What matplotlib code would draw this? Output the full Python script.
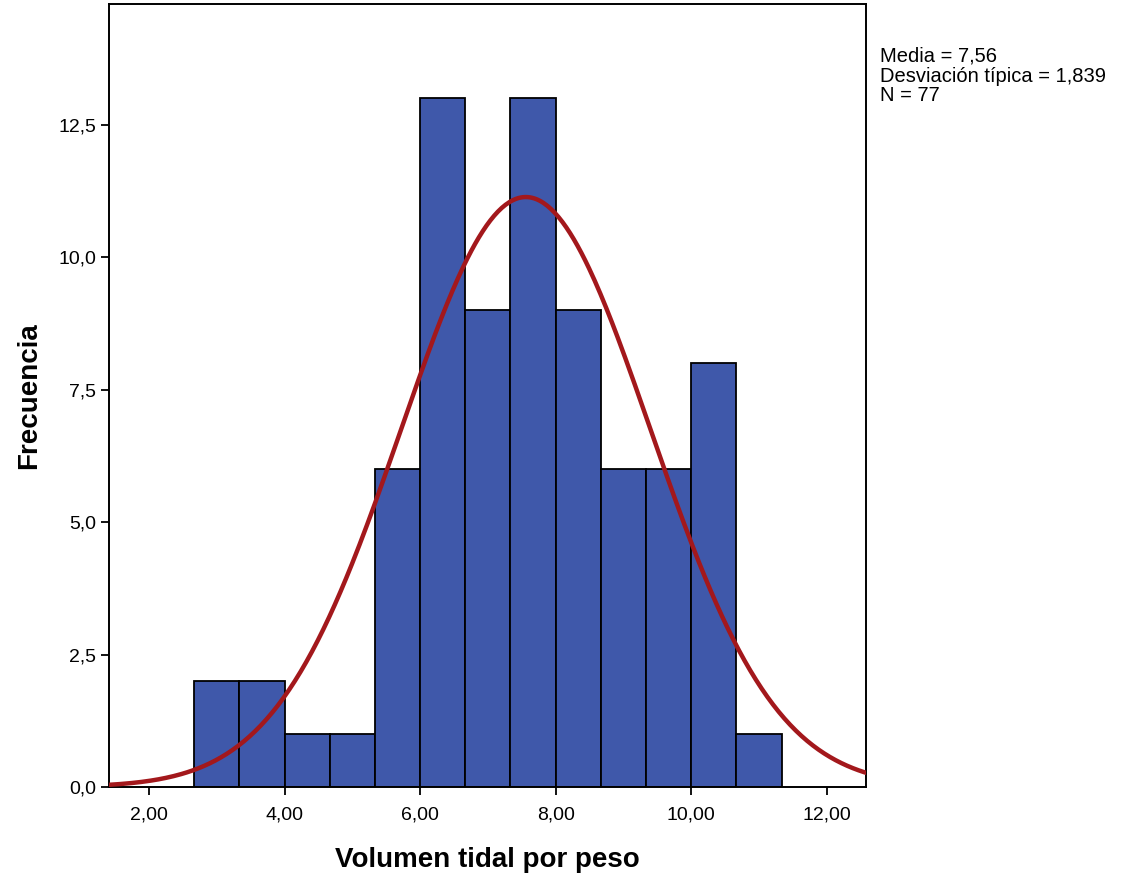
import numpy as np
import matplotlib
matplotlib.use("Agg")
from matplotlib import pyplot as plt
from matplotlib.ticker import FuncFormatter

plt.rcParams['font.family'] = ['Liberation Sans', 'DejaVu Sans']

# histogram of tidal volume per weight
bin_edges = [8/3 + i * 2/3 for i in range(14)]
counts = [2, 2, 1, 1, 6, 13, 9, 13, 9, 6, 6, 8, 1]
media = 7.56
desv = 1.839
n = 77
yticks = [0.0, 2.5, 5.0, 7.5, 10.0, 12.5]
xticks = [2, 4, 6, 8, 10, 12]

fig = plt.figure(figsize=(11.21, 8.73), dpi=100)
ax = fig.add_axes([109/1121, 86/873, 757/1121, 783/873])

left = bin_edges[:-1]
width = np.diff(bin_edges)
ax.bar(left, counts, width=width, align='edge', color='#3F58AA',
       edgecolor='black', linewidth=1.3, zorder=2)

# normal curve scaled to counts
xs = np.linspace(1.41, 12.58, 400)
bw = width[0]
ys = n * bw / (desv * np.sqrt(2 * np.pi)) * np.exp(-0.5 * ((xs - media) / desv) ** 2)
ax.plot(xs, ys, color='#A3181C', linewidth=3.2, zorder=3)

ax.set_xlim(1.41, 12.58)
ax.set_ylim(0, 14.78)
ax.set_xticks(xticks)
ax.set_yticks(yticks)
ax.xaxis.set_major_formatter(FuncFormatter(lambda v, p: f"{v:.2f}".replace('.', ',')))
ax.yaxis.set_major_formatter(FuncFormatter(lambda v, p: f"{v:.1f}".replace('.', ',')))
ax.tick_params(axis='both', direction='out', length=6, width=1.3, labelsize=14,
               color='black')
ax.tick_params(axis='x', pad=8)
ax.tick_params(axis='y', pad=3)
for s in ax.spines.values():
    s.set_linewidth(1.4)

ax.set_xlabel('Volumen tidal por peso', fontsize=20, fontweight='bold', labelpad=17)
ax.set_ylabel('Frecuencia', fontsize=20, fontweight='bold', labelpad=12)

fig.text(880/1121, 1 - 76/873,
         f"Media = {media:.2f}\nDesviación típica = {desv:.3f}\nN = {n}".replace('.', ','),
         fontsize=14.5, va='center', ha='left', linespacing=1.05)

fig.savefig('out.png', dpi=100)
